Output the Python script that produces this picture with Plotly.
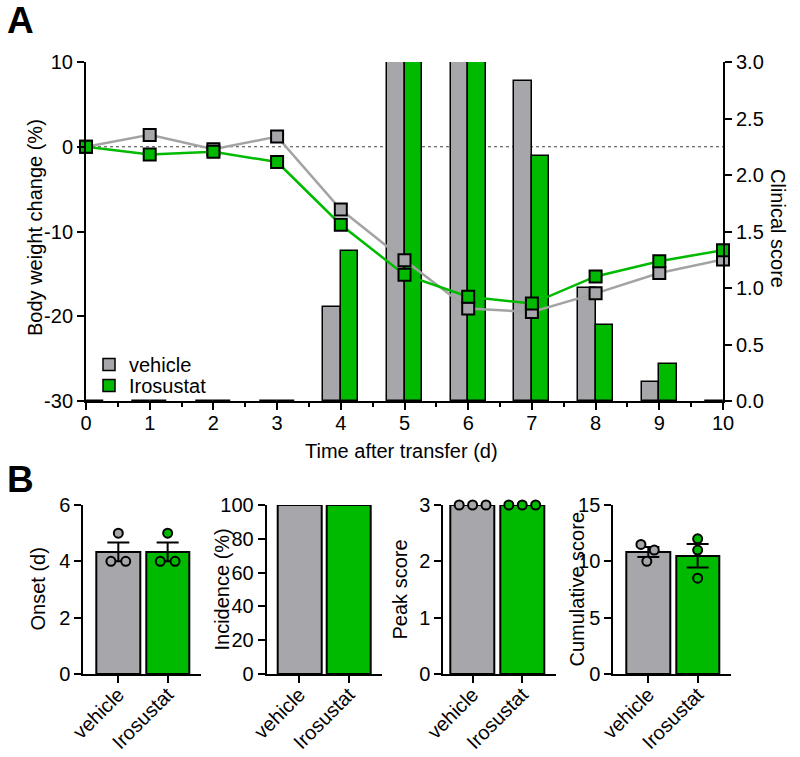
import numpy as np
import plotly.graph_objects as go

# ---------------- data ----------------
days = list(range(11))
bw_vehicle = [0, 1.4, -0.3, 1.2, -7.4, -13.4, -19.1, -19.5, -17.3, -14.9, -13.3]
bw_irosustat = [0, -0.9, -0.6, -1.8, -9.2, -15.1, -17.7, -18.5, -15.3, -13.5, -12.2]
cs_vehicle = [0, 0, 0, 0, 0.83, 3, 3, 2.83, 1.0, 0.17, 0]
cs_irosustat = [0, 0, 0, 0, 1.33, 3, 3, 2.17, 0.67, 0.33, 0]
bw_tickvals = [-30, -20, -10, 0, 10]
bw_ticktext = ["-30", "-20", "-10", "0", "10"]

groups = ["vehicle", "Irosustat"]
onset_vehicle = [4, 4, 5]
onset_irosustat = [4, 4, 5]
incidence_vals = [100, 100]
peak_vehicle = [3, 3, 3]
peak_irosustat = [3, 3, 3]
cum_vehicle = [11.5, 11, 10]
cum_irosustat = [12, 11, 8.5]

# ---------------- style ----------------
GRAY = "#A7A7AB"
GREEN = "#00BA00"
LGRAY = "#A3A3A3"
FONT = "Liberation Sans, Arial, sans-serif"
W, H = 800, 757


def px_x(p):
    return p / W


def px_y(p):
    return 1 - p / H


fig = go.Figure()

# ---------------- panel A ----------------
fig.add_trace(go.Bar(x=days, y=cs_vehicle, name="vehicle", width=0.275, offset=-0.275,
                     marker=dict(color=GRAY, line=dict(color="black", width=1.5)),
                     xaxis="x", yaxis="y", showlegend=True, legend="legend"))
fig.add_trace(go.Bar(x=days, y=cs_irosustat, name="Irosustat", width=0.275, offset=0,
                     marker=dict(color=GREEN, line=dict(color="black", width=1.5)),
                     xaxis="x", yaxis="y", showlegend=True, legend="legend2"))
fig.add_trace(go.Scatter(x=days, y=bw_vehicle, mode="lines+markers", name="vehicle",
                         line=dict(color=LGRAY, width=2.5),
                         marker=dict(symbol="square", size=12, color=GRAY,
                                     line=dict(color="black", width=2)),
                         xaxis="x", yaxis="y2", showlegend=False, cliponaxis=False))
fig.add_trace(go.Scatter(x=days, y=bw_irosustat, mode="lines+markers", name="Irosustat",
                         line=dict(color=GREEN, width=2.5),
                         marker=dict(symbol="square", size=12, color=GREEN,
                                     line=dict(color="black", width=2)),
                         xaxis="x", yaxis="y2", showlegend=False, cliponaxis=False))

axis_common = dict(showline=True, linecolor="black", linewidth=2, ticks="outside",
                   ticklen=7, tickwidth=2, tickcolor="black", showgrid=False,
                   zeroline=False, automargin=False,
                   tickfont=dict(family=FONT, size=20, color="black"))

legend_common = dict(xanchor="left", yanchor="top", bgcolor="rgba(0,0,0,0)",
                     font=dict(size=20, family=FONT), tracegroupgap=0, borderwidth=0)

layout = dict(
    template="none",
    width=W, height=H, margin=dict(l=0, r=0, t=0, b=0, pad=0, autoexpand=False),
    paper_bgcolor="white", plot_bgcolor="rgba(0,0,0,0)",
    font=dict(family=FONT, size=20, color="black"),
    barmode="overlay", bargap=0,
    showlegend=True,
    legend=dict(x=px_x(89), y=px_y(345), **legend_common),
    legend2=dict(x=px_x(89), y=px_y(366), **legend_common),
    xaxis=dict(domain=[px_x(86), px_x(723)], range=[0, 10], anchor="y",
               tickvals=days, ticklabelstandoff=-4,
               minor=dict(ticks="outside", dtick=0.5, ticklen=4,
                          tickwidth=2, tickcolor="black"),
               **axis_common),
    yaxis=dict(domain=[px_y(401), px_y(62)], range=[0, 3], side="right", anchor="x",
               dtick=0.5, tickformat=".1f", **axis_common),
    yaxis2=dict(domain=[px_y(401), px_y(62)], range=[-30, 10], side="left",
                overlaying="y", anchor="x", tickvals=bw_tickvals, ticktext=bw_ticktext,
                **axis_common),
)

# dotted baseline at 0 % body-weight change
shapes = [dict(type="line", xref="x domain", x0=0, x1=1, yref="y2", y0=0, y1=0,
               line=dict(color="#444444", width=1.2, dash="dot"), layer="below")]

annotations = [
    dict(text="<b>A</b>", x=px_x(5), y=px_y(-2), xref="paper", yref="paper",
         xanchor="left", yanchor="top", showarrow=False, font=dict(size=37, family=FONT)),
    dict(text="<b>B</b>", x=px_x(5), y=px_y(457), xref="paper", yref="paper",
         xanchor="left", yanchor="top", showarrow=False, font=dict(size=37, family=FONT)),
    dict(text="Body weight change (%)", x=px_x(35), y=px_y(228), xref="paper", yref="paper",
         textangle=-90, showarrow=False, xanchor="center", yanchor="middle"),
    dict(text="Clinical score", x=px_x(778), y=px_y(228), xref="paper", yref="paper",
         textangle=90, showarrow=False, xanchor="center", yanchor="middle"),
    dict(text="Time after transfer (d)", x=px_x(402), y=px_y(451), xref="paper", yref="paper",
         showarrow=False, xanchor="center", yanchor="middle"),
]

# ---------------- panel B ----------------
panels = [
    dict(title="Onset (d)", vals=[onset_vehicle, onset_irosustat], rng=[0, 6], dtick=2,
         dom=(83.3, 200.7), xr=[-0.71, 1.67], tx=37,
         offs=[[-0.15, 0.15, 0], [-0.15, 0.15, 0]], err=True),
    dict(title="Incidence (%)", vals=None, rng=[0, 100], dtick=20,
         dom=(266.7, 381.7), xr=[-0.66, 1.66], tx=221, offs=None, err=False),
    dict(title="Peak score", vals=[peak_vehicle, peak_irosustat], rng=[0, 3], dtick=1,
         dom=(443.3, 556), xr=[-0.59, 1.68], tx=399,
         offs=[[-0.27, 0, 0.27], [-0.27, 0, 0.27]], err=False),
    dict(title="Cumulative score", vals=[cum_vehicle, cum_irosustat], rng=[0, 15], dtick=5,
         dom=(613.3, 730.7), xr=[-0.71, 1.67], tx=576,
         offs=[[-0.15, 0.12, -0.03], [0, 0, 0]], err=True),
]

colors = [GRAY, GREEN]
for i, p in enumerate(panels):
    n = i + 3
    xa, ya = f"x{n}", f"y{n}"
    if p["vals"] is None:
        means = incidence_vals
        sems = None
    else:
        means = [float(np.mean(v)) for v in p["vals"]]
        sems = [float(np.std(v, ddof=1) / np.sqrt(len(v))) for v in p["vals"]]
    fig.add_trace(go.Bar(
        x=[0, 1], y=means, width=0.88,
        marker=dict(color=colors, line=dict(color="black", width=2)),
        error_y=(dict(type="data", array=sems, color="black", thickness=2, width=11, visible=True)
                 if p["err"] else None),
        xaxis=xa, yaxis=ya, showlegend=False))
    if p["vals"] is not None:
        for g in range(2):
            xs = [g + o for o in p["offs"][g]]
            fig.add_trace(go.Scatter(
                x=xs, y=p["vals"][g], mode="markers",
                marker=dict(symbol="circle", size=9, color=colors[g],
                            line=dict(color="black", width=2)),
                xaxis=xa, yaxis=ya, showlegend=False, cliponaxis=False))
    layout[f"xaxis{n}"] = dict(domain=[px_x(p["dom"][0]), px_x(p["dom"][1])], range=p["xr"],
                               anchor=ya, tickvals=[0, 1], ticktext=groups, tickangle=-45,
                               ticklabelstandoff=-8, **axis_common)
    layout[f"yaxis{n}"] = dict(domain=[px_y(674), px_y(505)], range=p["rng"], dtick=p["dtick"],
                               anchor=xa, **axis_common)
    annotations.append(dict(text=p["title"], x=px_x(p["tx"]), y=px_y(589.5), xref="paper",
                            yref="paper", textangle=-90, showarrow=False,
                            xanchor="center", yanchor="middle"))

layout["shapes"] = shapes
layout["annotations"] = annotations
fig.update_layout(**layout)

fig.write_html("out.html", config={"displayModeBar": False},
               post_script="document.body.style.margin='0px';")
